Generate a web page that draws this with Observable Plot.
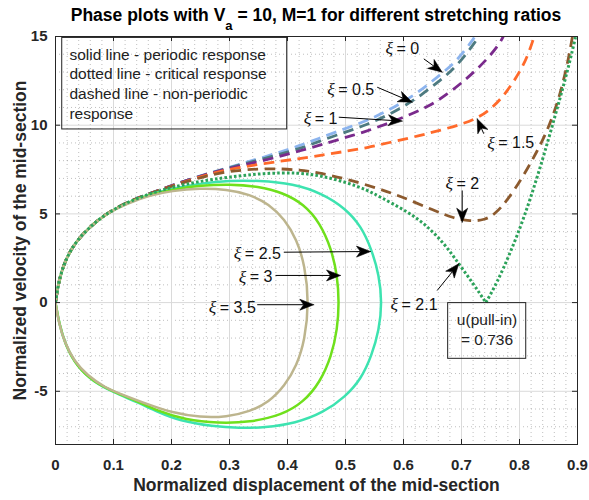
<!DOCTYPE html>
<html><head><meta charset="utf-8">
<script src="https://cdn.jsdelivr.net/npm/d3@7"></script>
<script src="https://cdn.jsdelivr.net/npm/@observablehq/plot@0.6"></script>
<style>
body{margin:0;background:#fff;}
#title{position:relative;z-index:2;width:589px;height:26px;box-sizing:border-box;padding:5px 12px 0 55px;text-align:center;font:bold 17.5px "Liberation Sans",Arial,sans-serif;line-height:20px;color:#000;white-space:nowrap;}
#title sub{font-size:13px;vertical-align:-9px;line-height:0;}
#chart svg{background:transparent;}
</style></head><body>
<div id="title">Phase plots with V<sub>a</sub> = 10, M=1 for different stretching ratios</div>
<div id="chart"></div>
<script>
// ---------- data ----------
const xTicks = [0, 0.1, 0.2, 0.3, 0.4, 0.5, 0.6, 0.7, 0.8, 0.9];
const xTickLabels = ["0", "0.1", "0.2", "0.3", "0.4", "0.5", "0.6", "0.7", "0.8", "0.9"];
const yTicks = [-5, 0, 5, 10, 15];
const yTickLabels = ["-5", "0", "5", "10", "15"];

// non-periodic (dashed)
const xi0 = [[0,0],[0.006,1.3],[0.017,2.4],[0.034,3.4],[0.06,4.3],[0.089,5.05],[0.123,5.65],[0.163,6.15],[0.1925,6.5],[0.221,6.84],[0.2615,7.26],[0.296,7.6],[0.36,8.2],[0.422,8.85],[0.451,9.22],[0.497,9.78],[0.537,10.25],[0.572,10.8],[0.6,11.33],[0.629,11.93],[0.664,12.87],[0.69,13.55],[0.721,14.85],[0.728,15.3]];
const xi05 = [[0,0],[0.006,1.3],[0.017,2.4],[0.034,3.4],[0.06,4.3],[0.089,5.05],[0.123,5.65],[0.163,6.15],[0.1925,6.5],[0.221,6.84],[0.2615,7.25],[0.296,7.58],[0.36,8.12],[0.422,8.68],[0.451,9.05],[0.497,9.58],[0.537,10.03],[0.572,10.55],[0.6,11.05],[0.629,11.65],[0.664,12.55],[0.69,13.25],[0.727,14.8],[0.734,15.3]];
const xi1 = [[0,0],[0.006,1.3],[0.017,2.4],[0.034,3.4],[0.06,4.3],[0.089,5.05],[0.123,5.65],[0.163,6.15],[0.1925,6.5],[0.221,6.83],[0.2615,7.24],[0.296,7.55],[0.36,8.0],[0.426,8.6],[0.457,8.88],[0.497,9.28],[0.531,9.6],[0.572,10.08],[0.6,10.45],[0.641,11.0],[0.676,11.75],[0.71,12.65],[0.738,13.5],[0.767,14.6],[0.776,15.3]];
const xi15 = [[0,0],[0.006,1.3],[0.017,2.4],[0.034,3.4],[0.06,4.3],[0.089,5.05],[0.123,5.65],[0.163,6.15],[0.1925,6.48],[0.221,6.8],[0.2615,7.2],[0.296,7.5],[0.36,7.85],[0.422,8.12],[0.457,8.3],[0.491,8.48],[0.537,8.72],[0.583,9.08],[0.629,9.42],[0.664,9.72],[0.7,10.05],[0.729,10.42],[0.75,10.9],[0.767,11.45],[0.785,12.2],[0.802,13.1],[0.814,13.9],[0.824,14.85],[0.828,15.3]];
const xi2 = [[0,0],[0.006,1.3],[0.017,2.4],[0.034,3.4],[0.06,4.3],[0.089,5.05],[0.123,5.65],[0.163,6.15],[0.1925,6.47],[0.221,6.78],[0.2615,7.15],[0.296,7.4],[0.36,7.58],[0.42,7.5],[0.457,7.3],[0.5,6.98],[0.55,6.5],[0.595,6.0],[0.652,5.2],[0.687,4.75],[0.715,4.58],[0.74,4.65],[0.758,5.0],[0.779,5.75],[0.807,7.15],[0.83,8.5],[0.848,9.7],[0.864,11.1],[0.876,12.5],[0.886,14.0],[0.891,14.95],[0.893,15.3]];
// critical (dotted), split at the pull-in cusp
const xi21a = [[0,0],[0.006,1.3],[0.017,2.4],[0.034,3.4],[0.06,4.3],[0.089,5.05],[0.123,5.65],[0.163,6.15],[0.2,6.5],[0.25,6.85],[0.3,7.08],[0.36,7.3],[0.42,7.33],[0.457,7.15],[0.5,6.8],[0.537,6.35],[0.56,5.95],[0.6,5.25],[0.635,4.5],[0.67,3.35],[0.695,2.2],[0.72,1.08],[0.742,0]];
const xi21b = [[0.742,0],[0.761,1.1],[0.784,2.8],[0.807,4.7],[0.83,7.0],[0.85,9.2],[0.868,11.3],[0.884,13.2],[0.899,15.3]];
// periodic (solid)
const xi25 = [[0,0],[0.006,1.3],[0.017,2.4],[0.034,3.4],[0.06,4.3],[0.089,5.05],[0.123,5.62],[0.163,6.12],[0.21,6.48],[0.25,6.72],[0.3,6.88],[0.35,6.88],[0.41,6.7],[0.46,6.15],[0.5,5.3],[0.527,4.3],[0.545,3.0],[0.558,1.55],[0.563,0],[0.558,-1.55],[0.545,-3.0],[0.527,-4.3],[0.5,-5.3],[0.462,-6.2],[0.414,-6.8],[0.36,-7.05],[0.317,-7.08],[0.271,-6.98],[0.214,-6.67],[0.175,-6.15],[0.14,-5.6],[0.1,-5.05],[0.066,-4.48],[0.037,-3.6],[0.017,-2.4],[0.006,-1.15],[0,0]];
const xi3 = [[0,0],[0.006,1.3],[0.017,2.4],[0.034,3.4],[0.06,4.3],[0.089,5.05],[0.123,5.6],[0.163,6.1],[0.21,6.42],[0.25,6.6],[0.3,6.68],[0.35,6.55],[0.392,6.2],[0.428,5.55],[0.456,4.5],[0.476,3.0],[0.486,1.5],[0.489,0],[0.486,-1.5],[0.476,-3.0],[0.456,-4.5],[0.428,-5.6],[0.39,-6.35],[0.335,-6.75],[0.28,-6.8],[0.225,-6.62],[0.175,-6.1],[0.14,-5.55],[0.1,-5.02],[0.066,-4.47],[0.037,-3.6],[0.017,-2.4],[0.006,-1.14],[0,0]];
const xi35 = [[0,0],[0.006,1.3],[0.017,2.4],[0.034,3.4],[0.06,4.3],[0.089,5.05],[0.123,5.58],[0.163,6.05],[0.2,6.3],[0.25,6.45],[0.295,6.38],[0.335,6.1],[0.368,5.55],[0.395,4.7],[0.416,3.55],[0.43,2.1],[0.437,0],[0.43,-2.1],[0.416,-3.55],[0.395,-4.7],[0.368,-5.6],[0.335,-6.15],[0.295,-6.45],[0.25,-6.48],[0.2,-6.2],[0.16,-5.75],[0.12,-5.25],[0.085,-4.8],[0.055,-4.1],[0.032,-3.3],[0.015,-2.2],[0.005,-1.05],[0,0]];

const xiValues = ["0", "0.5", "1", "1.5", "2", "2.1", "2.5", "3", "3.5"];
// label anchors (left edge, vertical middle) and arrows (tail -> tip), data units
const labelX = [0.569, 0.4685, 0.428, 0.7443, 0.6724, 0.5776, 0.3075, 0.316, 0.2643];
const labelY = [14.31, 12.0, 10.36, 8.99, 6.70, -0.11, 2.75, 1.43, -0.29];
const arrowX1 = [0.635, 0.5547, 0.4884, 0.7384, 0.7012, 0.658, 0.3936, 0.3793, 0.3478];
const arrowY1 = [13.74, 12.14, 10.45, 9.52, 6.32, 0.68, 2.84, 1.53, -0.12];
const arrowX2 = [0.6667, 0.615, 0.5978, 0.727, 0.7012, 0.6953, 0.5431, 0.4914, 0.4453];
const arrowY2 = [12.99, 11.30, 10.23, 10.36, 4.53, 2.19, 2.88, 1.53, -0.12];

const noteLines = ["solid line - periodic response", "dotted line - critical response", "dashed line - non-periodic", "response"];
const pullInLines = ["u(pull-in)", "= 0.736"];

// ---------- build ----------
const FONT = '"Liberation Sans", Arial, Helvetica, sans-serif';
const INK = "#262626";
const W = 589, H = 474, mL = 55, mR = 12, mT = 10, mB = 56;
const X = Plot.scale({x: {domain: [0, 0.9], range: [mL, W - mR]}});
const Y = Plot.scale({y: {domain: [-8, 15], range: [H - mB, mT]}});

const dashed = {strokeWidth: 2.8, strokeDasharray: "10.5,6.5"};
const solid = {strokeWidth: 2.5};
const dotted = {strokeWidth: 3, strokeDasharray: "2.6,2.2"};
const series = [
  {data: xi0, color: "#8cb4ee", st: dashed},
  {data: xi05, color: "#4d7a80", st: dashed},
  {data: xi1, color: "#7a2a8c", st: dashed},
  {data: xi15, color: "#ff6a2b", st: dashed},
  {data: xi2, color: "#8c5a2e", st: dashed},
  {data: xi25, color: "#3de3b0", st: solid},
  {data: xi3, color: "#6fe01c", st: solid},
  {data: xi35, color: "#bdb58e", st: solid},
  {data: xi21a, color: "#2ca25a", st: dotted},
  {data: xi21b, color: "#2ca25a", st: dotted}
];

const labels = xiValues.map((v, i) => ({v, x: labelX[i], y: labelY[i]}));
const arrows = xiValues.map((v, i) => ({x1: arrowX1[i], y1: arrowY1[i], x2: arrowX2[i], y2: arrowY2[i]}));

// filled arrow heads, built in pixel space then mapped back through the scales
const heads = [];
arrows.forEach((a, i) => {
  const px = X.apply(a.x2), py = Y.apply(a.y2), tx = X.apply(a.x1), ty = Y.apply(a.y1);
  const len = Math.hypot(px - tx, py - ty);
  const dx = (px - tx) / len, dy = (py - ty) / len, nx = -dy, ny = dx;
  const L = 14, Wd = 5.5, N = 0.72;
  const pts = [[px, py], [px - L*dx + Wd*nx, py - L*dy + Wd*ny], [px - N*L*dx, py - N*L*dy], [px - L*dx - Wd*nx, py - L*dy - Wd*ny], [px, py]];
  pts.forEach(([u, w]) => heads.push({id: i, x: X.invert(u), y: Y.invert(w)}));
  a.sx2 = X.invert(px - N*L*dx); a.sy2 = Y.invert(py - N*L*dy);
});

const minorX = d3.range(0, 0.9001, 0.02).filter(v => Math.abs(v*10 - Math.round(v*10)) > 1e-6);
const minorY = d3.range(-8, 15.001, 1).filter(v => v % 5 !== 0);
const frameH = H - mT - mB, frameW = W - mL - mR;

const noteY = [13.98, 12.86, 11.73, 10.63];
const notes = noteLines.map((t, i) => ({t, y: noteY[i]}));
const pulls = pullInLines.map((t, i) => ({t, y: [-1.0, -2.12][i]}));

const marks = [
  Plot.ruleX(minorX, {stroke: "#8a8a8a", strokeOpacity: 0.55, strokeDasharray: "1,3"}),
  Plot.ruleY(minorY, {stroke: "#8a8a8a", strokeOpacity: 0.55, strokeDasharray: "1,3"}),
  Plot.ruleX(xTicks, {stroke: "#dadada"}),
  Plot.ruleY(yTicks, {stroke: "#dadada"}),
  ...series.map(s => Plot.line(s.data, {x: d => d[0], y: d => d[1], stroke: s.color, curve: "basis", clip: true, strokeLinecap: "butt", ...s.st})),
  Plot.frame({stroke: INK}),
  Plot.ruleX(xTicks, {stroke: INK, insetTop: frameH - 5}),
  Plot.ruleX(xTicks, {stroke: INK, insetBottom: frameH - 5}),
  Plot.ruleY(yTicks, {stroke: INK, insetRight: frameW - 5}),
  Plot.ruleY(yTicks, {stroke: INK, insetLeft: frameW - 5}),
  Plot.text(xTicks, {x: d => d, frameAnchor: "bottom", dy: 25, text: (d, i) => xTickLabels[i], fontWeight: "bold", fontSize: 15, fill: INK}),
  Plot.text(yTicks, {y: d => d, frameAnchor: "left", dx: -8, textAnchor: "end", text: (d, i) => yTickLabels[i], fontWeight: "bold", fontSize: 15, fill: INK}),
  Plot.text(["Normalized displacement of the mid-section"], {frameAnchor: "bottom", dy: 46, fontWeight: "bold", fontSize: 17.5, fill: INK}),
  Plot.text(["Normalized velocity of the mid-section"], {frameAnchor: "left", dx: -35, rotate: -90, textAnchor: "middle", fontWeight: "bold", fontSize: 17.5, fill: INK}),
  // note box
  Plot.rect([{x1: 0.0116, x2: 0.3995, y1: 9.76, y2: 14.92}], {x1: "x1", x2: "x2", y1: "y1", y2: "y2", fill: "none", stroke: "#222"}),
  Plot.text(notes, {x: 0.024, y: "y", text: "t", textAnchor: "start", fontSize: 15.5, fill: "#222"}),
  // pull-in box
  Plot.rect([{x1: 0.677, x2: 0.8116, y1: -3.17, y2: -0.03}], {x1: "x1", x2: "x2", y1: "y1", y2: "y2", fill: "none", stroke: "#222"}),
  Plot.text(pulls, {x: 0.744, y: "y", text: "t", fontSize: 15.5, fill: "#222"}),
  // arrows
  Plot.link(arrows, {x1: "x1", y1: "y1", x2: "sx2", y2: "sy2", stroke: "#000", strokeWidth: 1}),
  Plot.line(heads, {x: "x", y: "y", z: "id", fill: "#000", stroke: "#000", strokeWidth: 0.6, curve: "linear"}),
  // xi labels
  Plot.text(labels, {x: "x", y: "y", text: () => "ξ", textAnchor: "start", fontStyle: "italic", fontFamily: '"Liberation Serif", "DejaVu Serif", serif', fontSize: 17.5, fill: "#111"}),
  Plot.text(labels, {x: "x", y: "y", text: d => "= " + d.v, textAnchor: "start", dx: 11, fontSize: 16, fill: "#111"})
];

const chart = Plot.plot({
  width: W, height: H,
  marginLeft: mL, marginRight: mR, marginTop: mT, marginBottom: mB,
  style: {fontFamily: FONT, background: "transparent"},
  x: {domain: [0, 0.9], axis: null},
  y: {domain: [-8, 15], axis: null},
  marks
});
document.getElementById("chart").appendChild(chart);
</script></body></html>
